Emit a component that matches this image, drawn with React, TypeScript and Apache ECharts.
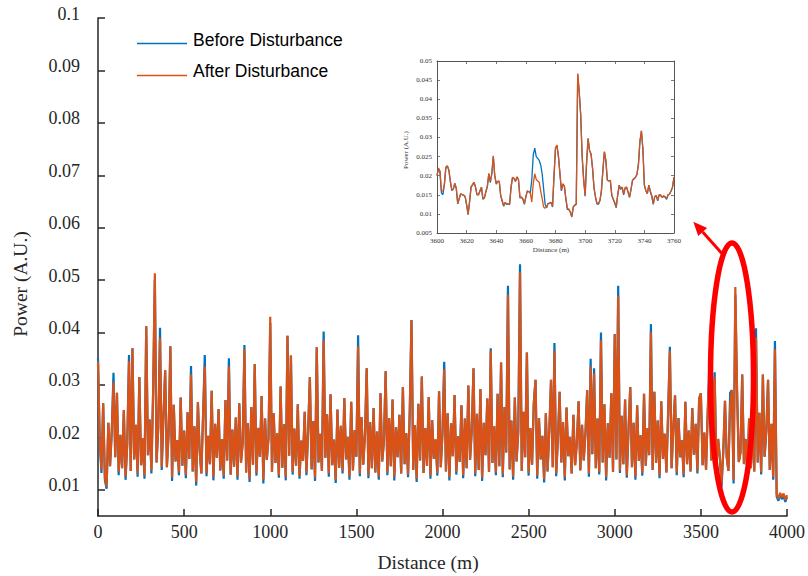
import React, { useEffect, useRef } from "react";
import * as echarts from "echarts";

// Main trace: sampled every 10 m from 0 to 4000 m
const mainStep = 10;
const beforeMain = [
  0.0351, 0.0195, 0.0132, 0.0265, 0.0118, 0.0102, 0.0228, 0.0145, 0.0212, 0.0323,
  0.0162, 0.0285, 0.0128, 0.0205, 0.0141, 0.0252, 0.0119, 0.0189, 0.0357, 0.0136,
  0.037, 0.0158, 0.0224, 0.0125, 0.0315, 0.0147, 0.0198, 0.0121, 0.0412, 0.0166,
  0.0234, 0.0131, 0.0286, 0.05, 0.0152, 0.0219, 0.0409, 0.0138, 0.0241, 0.0328,
  0.0143, 0.0207, 0.0374, 0.0117, 0.0262, 0.0154, 0.0195, 0.0128, 0.0276, 0.0146,
  0.0213, 0.0122, 0.0248, 0.0159, 0.0336, 0.0135, 0.0221, 0.0108, 0.0267, 0.0175,
  0.0131, 0.0242, 0.0357, 0.0126, 0.0203, 0.0149, 0.0289, 0.0118, 0.0226, 0.0161,
  0.0254, 0.0137, 0.0197, 0.0121, 0.0271, 0.0156, 0.0351, 0.0129, 0.0215, 0.0144,
  0.0238, 0.0119, 0.0265, 0.0152, 0.0189, 0.0376, 0.0133, 0.0227, 0.0115, 0.0258,
  0.0148, 0.034, 0.0127, 0.0218, 0.0163, 0.0279, 0.0112, 0.0236, 0.0157, 0.0199,
  0.0418, 0.0134, 0.0246, 0.0151, 0.0208, 0.0123, 0.0297, 0.0142, 0.0225, 0.0118,
  0.0394, 0.0165, 0.0356, 0.0129, 0.0217, 0.0146, 0.0263, 0.0121, 0.0194, 0.0155,
  0.0249, 0.0128, 0.0213, 0.0315, 0.0139, 0.0231, 0.0117, 0.0372, 0.0152, 0.0207,
  0.0136, 0.0402, 0.0161, 0.0244, 0.0125, 0.0282, 0.0147, 0.0196, 0.0113, 0.0253,
  0.0142, 0.0222, 0.0131, 0.0275, 0.0158, 0.0201, 0.0119, 0.0268, 0.0137, 0.0214,
  0.0163, 0.0395, 0.0126, 0.0239, 0.0148, 0.0205, 0.0332, 0.0122, 0.0229, 0.0141,
  0.0256, 0.0133, 0.0211, 0.0119, 0.0284, 0.0154, 0.0192, 0.0326, 0.0128, 0.0237,
  0.0145, 0.0272, 0.0118, 0.0219, 0.0162, 0.0243, 0.0131, 0.0296, 0.0149, 0.0208,
  0.0124, 0.0251, 0.0424, 0.0138, 0.0223, 0.0115, 0.0264, 0.0156, 0.0316, 0.0132,
  0.0218, 0.0146, 0.0277, 0.0121, 0.0233, 0.0159, 0.0196, 0.0127, 0.0288, 0.0143,
  0.0209, 0.0344, 0.0135, 0.0246, 0.0118, 0.0227, 0.0164, 0.0281, 0.0129, 0.0202,
  0.0153, 0.0261, 0.0122, 0.0236, 0.0141, 0.0299, 0.0157, 0.0214, 0.0332, 0.0126,
  0.0245, 0.0138, 0.0292, 0.0117, 0.0228, 0.0166, 0.0274, 0.0134, 0.037, 0.0151,
  0.0221, 0.0128, 0.0283, 0.0145, 0.0343, 0.0124, 0.0258, 0.0171, 0.0489, 0.0139,
  0.0232, 0.0119, 0.0276, 0.0154, 0.0211, 0.053, 0.0136, 0.0249, 0.0162, 0.0362,
  0.0127, 0.0218, 0.0148, 0.0265, 0.031, 0.0121, 0.0237, 0.0158, 0.0203, 0.0114,
  0.0246, 0.0135, 0.0212, 0.031, 0.0143, 0.038, 0.0126, 0.0198, 0.0287, 0.0152,
  0.0229, 0.0118, 0.0257, 0.0164, 0.0201, 0.0131, 0.0243, 0.0147, 0.0189, 0.0269,
  0.0137, 0.0224, 0.0156, 0.0208, 0.029, 0.0125, 0.035, 0.0168, 0.0332, 0.0141,
  0.0236, 0.0129, 0.04, 0.0152, 0.0263, 0.0118, 0.0227, 0.0161, 0.0284, 0.0134,
  0.0397, 0.0158, 0.0489, 0.0132, 0.0241, 0.0149, 0.0272, 0.0123, 0.0215, 0.0296,
  0.0143, 0.0228, 0.0119, 0.0261, 0.0155, 0.0204, 0.0127, 0.0283, 0.0146, 0.0218,
  0.0166, 0.0416, 0.0138, 0.0287, 0.0151, 0.0232, 0.0122, 0.0269, 0.0159, 0.0207,
  0.0133, 0.0248, 0.0373, 0.0141, 0.0219, 0.028, 0.0128, 0.0237, 0.0162, 0.0195,
  0.0124, 0.0268, 0.0149, 0.0213, 0.0135, 0.0256, 0.0167, 0.0226, 0.0131, 0.0274,
  0.0284, 0.0147, 0.0209, 0.0138, 0.0251, 0.0343, 0.0156, 0.0217, 0.0324, 0.0142,
  0.0197, 0.0163, 0.0105, 0.0172, 0.027, 0.0162, 0.0136, 0.0285, 0.029, 0.0112,
  0.0472, 0.029, 0.0153, 0.0171, 0.032, 0.0149, 0.0197, 0.0128, 0.0236, 0.0141,
  0.0219, 0.0135, 0.0408, 0.0152, 0.0247, 0.0129, 0.032, 0.0163, 0.0212, 0.031,
  0.0138, 0.0226, 0.0119, 0.0384, 0.0087, 0.0079, 0.0091, 0.0082, 0.0089, 0.0077,
  0.0086,
];
const afterMain = [
  0.0345, 0.0195, 0.0138, 0.0265, 0.0124, 0.0106, 0.0228, 0.0145, 0.0212, 0.0305,
  0.0162, 0.0285, 0.0134, 0.0205, 0.0141, 0.0252, 0.0125, 0.0189, 0.0345, 0.0136,
  0.037, 0.0158, 0.0224, 0.0131, 0.0315, 0.0147, 0.0198, 0.0127, 0.0412, 0.0166,
  0.0234, 0.0137, 0.0286, 0.0513, 0.0152, 0.0219, 0.039, 0.0143, 0.0241, 0.0328,
  0.0143, 0.0207, 0.0374, 0.0124, 0.0262, 0.0154, 0.0195, 0.0133, 0.0276, 0.0146,
  0.0213, 0.0128, 0.0248, 0.0159, 0.032, 0.0135, 0.0221, 0.0115, 0.0267, 0.0175,
  0.0131, 0.0242, 0.0335, 0.0131, 0.0203, 0.0149, 0.0289, 0.0124, 0.0226, 0.0161,
  0.0254, 0.0137, 0.0197, 0.0127, 0.0271, 0.0156, 0.0335, 0.0129, 0.0215, 0.0144,
  0.0238, 0.0125, 0.0265, 0.0152, 0.0189, 0.0368, 0.0133, 0.0227, 0.0121, 0.0258,
  0.0148, 0.034, 0.0132, 0.0218, 0.0163, 0.0279, 0.0119, 0.0236, 0.0157, 0.0199,
  0.043, 0.0134, 0.0246, 0.0151, 0.0208, 0.0128, 0.0297, 0.0142, 0.0225, 0.0124,
  0.0394, 0.0165, 0.0356, 0.0134, 0.0217, 0.0146, 0.0263, 0.0126, 0.0194, 0.0155,
  0.0249, 0.0133, 0.0213, 0.0315, 0.0139, 0.0231, 0.0123, 0.0372, 0.0152, 0.0207,
  0.0136, 0.0385, 0.0161, 0.0244, 0.0131, 0.0282, 0.0147, 0.0196, 0.0119, 0.0253,
  0.0142, 0.0222, 0.0136, 0.0275, 0.0158, 0.0201, 0.0125, 0.0268, 0.0137, 0.0214,
  0.0163, 0.0374, 0.0131, 0.0239, 0.0148, 0.0205, 0.0332, 0.0128, 0.0229, 0.0141,
  0.0256, 0.0133, 0.0211, 0.0125, 0.0284, 0.0154, 0.0192, 0.0326, 0.0133, 0.0237,
  0.0145, 0.0272, 0.0124, 0.0219, 0.0162, 0.0243, 0.0131, 0.0296, 0.0149, 0.0208,
  0.0129, 0.0251, 0.0424, 0.0138, 0.0223, 0.0121, 0.0264, 0.0156, 0.0316, 0.0132,
  0.0218, 0.0146, 0.0277, 0.0127, 0.0233, 0.0159, 0.0196, 0.0132, 0.0288, 0.0143,
  0.0209, 0.033, 0.0135, 0.0246, 0.0124, 0.0227, 0.0164, 0.0281, 0.0134, 0.0202,
  0.0153, 0.0261, 0.0128, 0.0236, 0.0141, 0.0299, 0.0157, 0.0214, 0.0332, 0.0131,
  0.0245, 0.0138, 0.0292, 0.0123, 0.0228, 0.0166, 0.0274, 0.0134, 0.0365, 0.0151,
  0.0221, 0.0133, 0.0283, 0.0145, 0.0343, 0.0129, 0.0258, 0.0171, 0.0472, 0.0139,
  0.0232, 0.0125, 0.0276, 0.0154, 0.0211, 0.0515, 0.0136, 0.0249, 0.0162, 0.0362,
  0.0132, 0.0218, 0.0148, 0.0265, 0.031, 0.0127, 0.0237, 0.0158, 0.0203, 0.012,
  0.0246, 0.0135, 0.0212, 0.031, 0.0143, 0.0365, 0.0131, 0.0198, 0.0287, 0.0152,
  0.0229, 0.0124, 0.0257, 0.0164, 0.0201, 0.0131, 0.0243, 0.0147, 0.0189, 0.0269,
  0.0137, 0.0224, 0.0156, 0.0208, 0.029, 0.0131, 0.0335, 0.0168, 0.0322, 0.0141,
  0.0236, 0.0134, 0.0385, 0.0152, 0.0263, 0.0124, 0.0227, 0.0161, 0.0284, 0.0134,
  0.0397, 0.0158, 0.047, 0.0137, 0.0241, 0.0149, 0.0272, 0.0128, 0.0215, 0.0296,
  0.0143, 0.0228, 0.0125, 0.0261, 0.0155, 0.0204, 0.0132, 0.0283, 0.0146, 0.0218,
  0.0166, 0.04, 0.0138, 0.0287, 0.0151, 0.0232, 0.0128, 0.0269, 0.0159, 0.0207,
  0.0133, 0.0248, 0.0365, 0.0141, 0.0219, 0.028, 0.0133, 0.0237, 0.0162, 0.0195,
  0.0129, 0.0268, 0.0149, 0.0213, 0.0135, 0.0256, 0.0167, 0.0226, 0.0136, 0.0274,
  0.0284, 0.0147, 0.0209, 0.0138, 0.0251, 0.0325, 0.0156, 0.0217, 0.0315, 0.0142,
  0.0197, 0.0163, 0.0112, 0.0172, 0.027, 0.0162, 0.0136, 0.0262, 0.029, 0.0118,
  0.0487, 0.029, 0.0153, 0.0171, 0.032, 0.0149, 0.0197, 0.0133, 0.0236, 0.0141,
  0.0219, 0.0135, 0.039, 0.0152, 0.0247, 0.0134, 0.032, 0.0163, 0.0212, 0.031,
  0.0138, 0.0226, 0.0124, 0.0368, 0.0092, 0.0083, 0.0094, 0.0086, 0.0093, 0.0081,
  0.009,
];

// Inset trace: every 1 m from 3600 to 3760 m
const insetStart = 3600;
const insetStep = 1;
const insetBefore = [
  0.02, 0.0218, 0.021, 0.0155, 0.015, 0.0178, 0.0222, 0.0225, 0.0215, 0.0185,
  0.0161, 0.0165, 0.018, 0.0166, 0.0126, 0.014, 0.0152, 0.015, 0.0149, 0.0145,
  0.0123, 0.0098, 0.0132, 0.017, 0.0176, 0.0182, 0.017, 0.015, 0.015, 0.016,
  0.017, 0.0138, 0.0142, 0.0158, 0.0172, 0.0205, 0.0182, 0.0205, 0.025, 0.02,
  0.0178, 0.0185, 0.0185, 0.0148, 0.0133, 0.012, 0.013, 0.0125, 0.0127, 0.0124,
  0.017, 0.0195, 0.0192, 0.0185, 0.0196, 0.019, 0.0142, 0.0143, 0.0138, 0.0125,
  0.0145, 0.016, 0.0158, 0.0155, 0.019, 0.0255, 0.0272, 0.025, 0.0245, 0.024,
  0.0228, 0.0205, 0.0165, 0.0125, 0.0116, 0.0127, 0.0128, 0.013, 0.0118, 0.02,
  0.0272, 0.0279, 0.025, 0.0205, 0.016, 0.0178, 0.0172, 0.014, 0.0112, 0.0111,
  0.0105, 0.0092, 0.0118, 0.0123, 0.0125, 0.0465, 0.042, 0.036, 0.025, 0.019,
  0.0146, 0.0235, 0.0297, 0.0265, 0.0256, 0.022, 0.0168, 0.0143, 0.0126, 0.0125,
  0.0135, 0.016, 0.0215, 0.0262, 0.024, 0.0188, 0.0186, 0.0188, 0.0148, 0.0138,
  0.0128, 0.0116, 0.015, 0.0175, 0.0164, 0.017, 0.015, 0.0168, 0.017, 0.0157,
  0.0143, 0.0165, 0.0188, 0.0192, 0.0196, 0.0203, 0.023, 0.029, 0.0316, 0.027,
  0.0175, 0.016, 0.0153, 0.0175, 0.0158, 0.0146, 0.0125, 0.0145, 0.0148, 0.0134,
  0.015, 0.0148, 0.0143, 0.0146, 0.0144, 0.0138, 0.015, 0.0152, 0.016, 0.017,
  0.0196,
];
const insetAfter = [
  0.02, 0.022, 0.0212, 0.016, 0.016, 0.0178, 0.0222, 0.0226, 0.0215, 0.0186,
  0.0163, 0.0165, 0.018, 0.0168, 0.0128, 0.014, 0.0153, 0.015, 0.0149, 0.0145,
  0.0125, 0.0099, 0.0132, 0.017, 0.0177, 0.0183, 0.017, 0.0151, 0.015, 0.016,
  0.017, 0.014, 0.0142, 0.0158, 0.0172, 0.0206, 0.0185, 0.0205, 0.0252, 0.02,
  0.018, 0.0185, 0.0186, 0.0148, 0.0135, 0.0122, 0.013, 0.0126, 0.0127, 0.0126,
  0.017, 0.0196, 0.0193, 0.0185, 0.0197, 0.019, 0.0143, 0.0144, 0.014, 0.0127,
  0.0145, 0.016, 0.0158, 0.0155, 0.0131, 0.018, 0.0205, 0.019, 0.0186, 0.0183,
  0.016, 0.014, 0.0118, 0.0115, 0.0118, 0.0127, 0.0128, 0.013, 0.012, 0.02,
  0.0272, 0.028, 0.025, 0.0205, 0.0162, 0.0179, 0.0172, 0.014, 0.0114, 0.0113,
  0.0105, 0.0093, 0.0118, 0.0123, 0.0125, 0.0467, 0.042, 0.036, 0.025, 0.019,
  0.0148, 0.0235, 0.0298, 0.0265, 0.0257, 0.022, 0.0168, 0.0145, 0.0128, 0.0127,
  0.0135, 0.016, 0.0215, 0.0263, 0.024, 0.0188, 0.0186, 0.0188, 0.015, 0.0139,
  0.013, 0.0118, 0.015, 0.0175, 0.0166, 0.017, 0.0152, 0.0168, 0.017, 0.0157,
  0.0145, 0.0165, 0.0188, 0.0192, 0.0196, 0.0203, 0.023, 0.029, 0.0318, 0.027,
  0.0175, 0.0162, 0.0153, 0.0175, 0.016, 0.0148, 0.0127, 0.0145, 0.0148, 0.0136,
  0.015, 0.015, 0.0143, 0.0148, 0.0144, 0.014, 0.015, 0.0152, 0.016, 0.017,
  0.0196,
];

const mainYTicks = [0.01, 0.02, 0.03, 0.04, 0.05, 0.06, 0.07, 0.08, 0.09, 0.1];
const legendLabels = ["Before Disturbance", "After Disturbance"];
const BLUE = "#0072BD";
const ORANGE = "#D95319";
const AXIS = "#262626";
const SERIF = "Liberation Serif, Times New Roman, serif";
const SANS = "Liberation Sans, Arial, sans-serif";

export default function App() {
  const ref = useRef<HTMLDivElement>(null);
  useEffect(() => {
    if (!ref.current) return;
    const chart = echarts.init(ref.current, undefined, { renderer: "svg" });
    const mainBefore = beforeMain.map((v, i) => [i * mainStep, v]);
    const mainAfter = afterMain.map((v, i) => [i * mainStep, v]);
    const inBefore = insetBefore.map((v, i) => [insetStart + i * insetStep, v]);
    const inAfter = insetAfter.map((v, i) => [insetStart + i * insetStep, v]);

    const insetAxisBase = {
      gridIndex: 1,
      type: "value",
      axisLine: { show: true, onZero: false, lineStyle: { color: "#555", width: 1 } },
      axisTick: { show: true, inside: true, length: 3, lineStyle: { color: "#555", width: 0.8 } },
      splitLine: { show: false },
    };

    chart.setOption({
      animation: false,
      backgroundColor: "#ffffff",
      grid: [
        { left: 98, top: 18, width: 696, height: 498 },
        { left: 437, top: 61, width: 237, height: 172, show: true, backgroundColor: "#ffffff", borderWidth: 0 },
      ],
      xAxis: [
        {
          gridIndex: 0,
          type: "value",
          min: 0,
          max: 4000,
          interval: 500,
          axisLine: { show: true, onZero: false, lineStyle: { color: AXIS, width: 1.5 } },
          axisTick: { show: true, inside: true, length: 7, lineStyle: { color: AXIS, width: 1.5 } },
          axisLabel: {
            fontFamily: SERIF,
            fontSize: 18,
            color: AXIS,
            margin: 7,
            formatter: (v: number) => String(v),
          },
          splitLine: { show: false },
        },
        {
          ...insetAxisBase,
          position: "bottom",
          min: 3600,
          max: 3760,
          interval: 20,
          axisLabel: {
            fontFamily: SERIF,
            fontSize: 7,
            color: "#333",
            margin: 4,
            formatter: (v: number) => String(v),
          },
        },
        {
          ...insetAxisBase,
          position: "top",
          min: 3600,
          max: 3760,
          interval: 20,
          axisLabel: { show: false },
        },
      ],
      yAxis: [
        {
          gridIndex: 0,
          type: "value",
          min: 0.005,
          max: 0.1,
          axisLine: { show: true, onZero: false, lineStyle: { color: AXIS, width: 1.5 } },
          axisTick: {
            show: true,
            inside: true,
            length: 7,
            customValues: mainYTicks,
            lineStyle: { color: AXIS, width: 1.5 },
          },
          axisLabel: {
            fontFamily: SERIF,
            fontSize: 18,
            color: AXIS,
            margin: 18,
            customValues: mainYTicks,
            verticalAlign: "bottom",
            lineHeight: 9,
            formatter: (v: number) => String(+v.toFixed(2)),
          },
          splitLine: { show: false },
        },
        {
          ...insetAxisBase,
          position: "left",
          min: 0.005,
          max: 0.05,
          interval: 0.005,
          axisLabel: {
            fontFamily: SERIF,
            fontSize: 7,
            color: "#333",
            margin: 5,
            formatter: (v: number) => String(+v.toFixed(3)),
          },
        },
        {
          ...insetAxisBase,
          position: "right",
          min: 0.005,
          max: 0.05,
          interval: 0.005,
          axisLabel: { show: false },
        },
      ],
      series: [
        {
          name: legendLabels[0],
          type: "line",
          xAxisIndex: 0,
          yAxisIndex: 0,
          data: mainBefore,
          showSymbol: false,
          lineStyle: { color: BLUE, width: 2.2 },
          itemStyle: { color: BLUE },
        },
        {
          name: legendLabels[1],
          type: "line",
          xAxisIndex: 0,
          yAxisIndex: 0,
          data: mainAfter,
          showSymbol: false,
          lineStyle: { color: ORANGE, width: 2.2 },
          itemStyle: { color: ORANGE },
        },
        {
          name: legendLabels[0] + " (inset)",
          type: "line",
          xAxisIndex: 1,
          yAxisIndex: 1,
          data: inBefore,
          showSymbol: false,
          lineStyle: { color: BLUE, width: 1.3 },
          itemStyle: { color: BLUE },
        },
        {
          name: legendLabels[1] + " (inset)",
          type: "line",
          xAxisIndex: 1,
          yAxisIndex: 1,
          data: inAfter,
          showSymbol: false,
          lineStyle: { color: ORANGE, width: 1.3 },
          itemStyle: { color: ORANGE },
        },
      ],
      graphic: [
        // Legend
        { type: "line", shape: { x1: 137, y1: 43.5, x2: 187, y2: 43.5 }, style: { stroke: BLUE, lineWidth: 1.5 }, z: 100 },
        { type: "line", shape: { x1: 137, y1: 75.5, x2: 187, y2: 75.5 }, style: { stroke: ORANGE, lineWidth: 1.5 }, z: 100 },
        {
          type: "text",
          x: 193,
          y: 39.5,
          style: { text: legendLabels[0], font: `17.5px ${SANS}`, fill: "#000", textVerticalAlign: "middle" },
        },
        {
          type: "text",
          x: 193,
          y: 70.5,
          style: { text: legendLabels[1], font: `17.5px ${SANS}`, fill: "#000", textVerticalAlign: "middle" },
        },
        // Axis titles
        {
          type: "text",
          x: 20,
          y: 284,
          rotation: Math.PI / 2,
          style: {
            text: "Power (A.U.)",
            font: `19.5px ${SERIF}`,
            fill: AXIS,
            textAlign: "center",
            textVerticalAlign: "middle",
          },
        },
        {
          type: "text",
          x: 428,
          y: 562,
          style: {
            text: "Distance (m)",
            font: `19.5px ${SERIF}`,
            fill: AXIS,
            textAlign: "center",
            textVerticalAlign: "middle",
          },
        },
        {
          type: "text",
          x: 406,
          y: 150,
          rotation: Math.PI / 2,
          style: {
            text: "Power (A.U.)",
            font: `7px ${SERIF}`,
            fill: "#333",
            textAlign: "center",
            textVerticalAlign: "middle",
          },
        },
        {
          type: "text",
          x: 551,
          y: 250,
          style: {
            text: "Distance (m)",
            font: `7px ${SERIF}`,
            fill: "#333",
            textAlign: "center",
            textVerticalAlign: "middle",
          },
        },
        // Red ellipse and arrow
        {
          type: "ellipse",
          shape: { cx: 732, cy: 377.5, rx: 21.5, ry: 134.5 },
          style: { fill: "none", stroke: "#FF0000", lineWidth: 5.5 },
          z: 100,
        },
        {
          type: "line",
          shape: { x1: 721.7, y1: 253.3, x2: 702.7, y2: 232.1 },
          style: { stroke: "#FF0000", lineWidth: 3 },
          z: 100,
        },
        {
          type: "polygon",
          shape: { points: [[693.3, 221.7], [707.1, 228.1], [698.2, 236.1]] },
          style: { fill: "#FF0000" },
          z: 100,
        },
      ],
    });
    return () => chart.dispose();
  }, []);
  return (
    <div
      ref={ref}
      style={{ position: "fixed", left: 0, top: 0, width: 808, height: 576, background: "#fff" }}
    />
  );
}
